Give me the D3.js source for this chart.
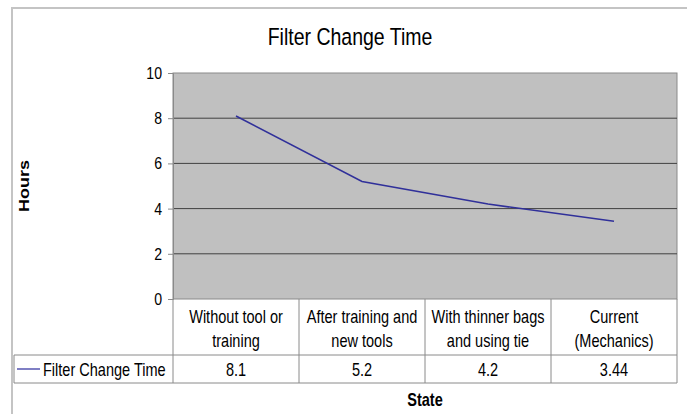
<!DOCTYPE html>
<html><head><meta charset="utf-8">
<script src="https://cdn.jsdelivr.net/npm/d3@7"></script>
<style>
html,body{margin:0;padding:0;background:#fff;}
text{font-family:"Liberation Sans",Arial,sans-serif;fill:#000;}
</style></head>
<body><svg id="c" width="687" height="414"></svg>
<script>
const title = "Filter Change Time";
const seriesName = "Filter Change Time";
const categories = ["Without tool or\ntraining","After training and\nnew tools","With thinner bags\nand using tie","Current\n(Mechanics)"];
const values = [8.1, 5.2, 4.2, 3.44];
const valueLabels = ["8.1","5.2","4.2","3.44"];
const yTicks = [0,2,4,6,8,10];
const yTitle = "Hours";
const xTitle = "State";

const SX = 0.83; // horizontal squeeze seen in the reference text
const svg = d3.select("#c");
const L = 173, R = 677, T = 73, B = 299;
const row1B = 355, row2B = 383, legL = 14;

function label(g, x, y, str, size, anchor, bold){
  return g.append("text")
    .attr("transform",`translate(${x},${y}) scale(${SX},1)`)
    .attr("text-anchor",anchor||"start")
    .attr("font-size",size+"px")
    .attr("font-weight",bold?"bold":"normal")
    .text(str);
}

// outer frame
svg.append("rect").attr("x",12).attr("y",8).attr("width",720).attr("height",440)
  .attr("fill","#fff").attr("stroke","#c4c4c4").attr("stroke-width",2);

const x = d3.scaleBand().domain(categories).range([L,R]).padding(0);
const y = d3.scaleLinear().domain([0,10]).range([B,T]);

// plot area
svg.append("rect").attr("x",L).attr("y",T).attr("width",R-L).attr("height",B-T)
  .attr("fill","#c0c0c0").attr("stroke","#8a8a8a").attr("stroke-width",1);

// gridlines
svg.append("g").selectAll("line").data(yTicks.filter(d=>d>0&&d<10)).join("line")
  .attr("x1",L).attr("x2",R).attr("y1",d=>y(d)).attr("y2",d=>y(d))
  .attr("stroke","#404040").attr("stroke-width",1);

// y axis
const ax = svg.append("g").attr("transform",`translate(${L},0)`)
  .call(d3.axisLeft(y).tickValues(yTicks).tickSize(5).tickPadding(6).tickFormat(d3.format("d")));
ax.select(".domain").attr("stroke","#8a8a8a");
ax.selectAll(".tick line").attr("stroke","#8a8a8a");
ax.selectAll(".tick text")
  .attr("font-size","17px").attr("font-family",'"Liberation Sans",Arial,sans-serif').attr("fill","#000")
  .attr("x",-11/SX).attr("transform",`scale(${SX},1)`);

// line
svg.append("path").datum(values)
  .attr("d", d3.line().x((d,i)=>x(categories[i])+x.bandwidth()/2).y(d=>y(d)))
  .attr("fill","none").attr("stroke","#30309a").attr("stroke-width",1.6);

// table
const tg = svg.append("g").attr("stroke","#8a8a8a").attr("stroke-width",1);
tg.append("line").attr("x1",legL).attr("x2",R).attr("y1",row1B).attr("y2",row1B);
tg.append("line").attr("x1",legL).attr("x2",R).attr("y1",row2B).attr("y2",row2B);
tg.append("line").attr("x1",legL).attr("x2",legL).attr("y1",row1B).attr("y2",row2B);
tg.selectAll(".v").data(categories).join("line").attr("class","v")
  .attr("x1",d=>x(d)).attr("x2",d=>x(d)).attr("y1",B).attr("y2",row2B);
tg.append("line").attr("x1",R).attr("x2",R).attr("y1",B).attr("y2",row2B);

// category labels
const cg = svg.append("g");
categories.forEach(c=>{
  c.split("\n").forEach((l,i)=>label(cg, x(c)+x.bandwidth()/2, 323+i*24, l, 17.5, "middle"));
});

// values row
const vg = svg.append("g");
valueLabels.forEach((v,i)=>label(vg, x(categories[i])+x.bandwidth()/2, 376, v, 17.5, "middle"));

// legend key
svg.append("line").attr("x1",17).attr("x2",40).attr("y1",369).attr("y2",369)
  .attr("stroke","#7f7fc4").attr("stroke-width",2);
label(svg, 43, 376, seriesName, 17.5, "start");

// titles
label(svg, 350, 45, title, 23.5, "middle");
svg.append("text").attr("transform",`translate(29,186) rotate(-90) scale(1,${SX})`).attr("text-anchor","middle")
  .attr("font-size","18px").attr("font-weight","bold").text(yTitle);
label(svg, 425, 406, xTitle, 17.5, "middle", true);
</script></body></html>
